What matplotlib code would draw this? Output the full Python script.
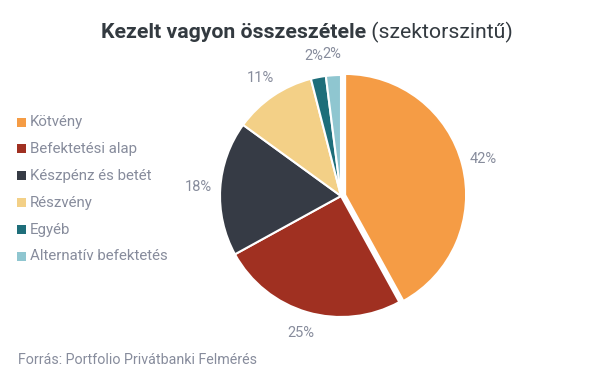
import matplotlib
matplotlib.use("Agg")
import matplotlib.pyplot as plt

categories = ["Kötvény", "Befektetési alap", "Készpénz és betét", "Részvény", "Egyéb", "Alternatív befektetés"]
values = [42, 25, 18, 11, 2, 2]
colors = ["#F59C45", "#A03021", "#363B45", "#F3D087", "#1E6E7A", "#8FC6D0"]
pct_labels = ["42%", "25%", "18%", "11%", "2%", "2%"]

plt.rcParams['font.family'] = ['Roboto', 'DejaVu Sans']
W, H = 607, 380
fig = plt.figure(figsize=(W/100, H/100), dpi=100)

cx, cy, r = 341, 196, 121
ax = fig.add_axes([(cx - r)/W, (H - cy - r)/H, 2*r/W, 2*r/H])
explode = [0.035, 0, 0, 0, 0, 0]
wedges, texts = ax.pie(values, colors=colors, startangle=90, counterclock=False,
                       explode=explode, labels=pct_labels, labeldistance=1.18,
                       wedgeprops=dict(edgecolor="white", linewidth=1.5),
                       textprops=dict(color="#878c9c", fontsize=10.5))
for w in wedges:
    w.set_clip_on(False)
for t in texts:
    t.set_ha("center")
    t.set_va("center")
ax.set_xlim(-1, 1)
ax.set_ylim(-1, 1)
ax.set_aspect("equal")
ax.axis("off")

# Legend
y0 = 122
for i, (c, lab) in enumerate(zip(colors, categories)):
    y = y0 + i*26.9
    fig.patches.append(plt.Rectangle((17/W, 1 - (y + 4.5)/H), 9/W, 9/H, transform=fig.transFigure,
                                     facecolor=c, edgecolor="none"))
    fig.text(30/W, 1 - y/H, lab, ha="left", va="center", fontsize=10.8, color="#878c9c")

# Title
fig.canvas.draw()
renderer = fig.canvas.get_renderer()
t1 = fig.text(0, 1 - 32/H, "Kezelt vagyon összeszétele", fontsize=15.3, fontweight="bold",
              color="#333a40", ha="left", va="center")
t2 = fig.text(0, 1 - 32/H, " (szektorszintű)", fontsize=15.3, color="#333a40", ha="left", va="center")
w1 = t1.get_window_extent(renderer).width
w2 = t2.get_window_extent(renderer).width
x_start = 307 - (w1 + w2)/2
t1.set_x(x_start/W)
t2.set_x((x_start + w1)/W)

fig.text(18/W, 1 - 360/H, "Forrás: Portfolio Privátbanki Felmérés", fontsize=10.3, color="#878c9c",
         ha="left", va="center")

fig.savefig("out.png", dpi=100, facecolor="white")
